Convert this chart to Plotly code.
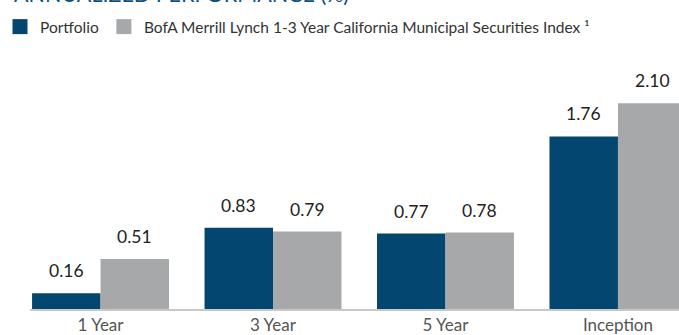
import plotly.graph_objects as go

# Annualized performance (%) by period
periods = ["1 Year", "3 Year", "5 Year", "Inception"]
portfolio = [0.16, 0.83, 0.77, 1.76]
index_1_3yr = [0.51, 0.79, 0.78, 2.10]

series_names = ["Portfolio", "BofA Merrill Lynch 1-3 Year California Municipal Securities Index \u00b9"]
series_colors = ["#03466f", "#a7a8aa"]

FONT = "Lato, 'Open Sans', sans-serif"
x_pos = list(range(len(periods)))
BARGAP = 0.206
half = (1 - BARGAP) / 4  # offset of each bar centre within its group

fig = go.Figure()
for name, vals, color in zip(series_names, [portfolio, index_1_3yr], series_colors):
    fig.add_trace(go.Bar(
        x=x_pos, y=vals, name=name, showlegend=False,
        marker=dict(color=color, line=dict(width=0)),
    ))
    # larger square swatch for the legend
    fig.add_trace(go.Scatter(
        x=[None], y=[None], mode="markers", name=name,
        marker=dict(symbol="square", size=15, color=color),
    ))

# value labels above each bar
annotations = []
for j, vals in enumerate([portfolio, index_1_3yr]):
    off = -half if j == 0 else half
    for k, v in enumerate(vals):
        annotations.append(dict(
            x=k + off, y=v, xref="x", yref="y",
            text=f"{v:.2f}", showarrow=False,
            yanchor="bottom", yshift=10,
            font=dict(family=FONT, size=17.5, color="#222222"),
        ))

# section heading, partly above the top edge of the page
annotations.append(dict(
    x=-18 / 649, y=1.206, xref="paper", yref="paper", xanchor="left", yanchor="bottom",
    text="ANNUALIZED PERFORMANCE (%)", showarrow=False,
    font=dict(family=FONT, size=21.5, color="#0b4f83"),
))

fig.update_layout(
    width=679, height=335,
    margin=dict(l=30, r=0, t=60, b=21),
    paper_bgcolor="white", plot_bgcolor="white",
    barmode="group", bargap=BARGAP, bargroupgap=0,
    showlegend=True,
    legend=dict(
        orientation="h", x=-0.01, y=0.97, xref="container", yref="container",
        xanchor="left", yanchor="top",
        font=dict(family=FONT, size=15.5, color="#333333"),
        itemclick=False,
        bgcolor="rgba(0,0,0,0)",
    ),
    xaxis=dict(
        tickmode="array", tickvals=x_pos, ticktext=periods,
        range=[-0.409, 3.354],
        showgrid=False, zeroline=False,
        showline=True, linecolor="#c8c8c8", linewidth=2,
        ticks="", tickfont=dict(family=FONT, size=17, color="#555555"),
    ),
    yaxis=dict(
        range=[0, 2.54], visible=False, showgrid=False, zeroline=False,
    ),
    annotations=annotations,
)

fig.write_html("out.html")
